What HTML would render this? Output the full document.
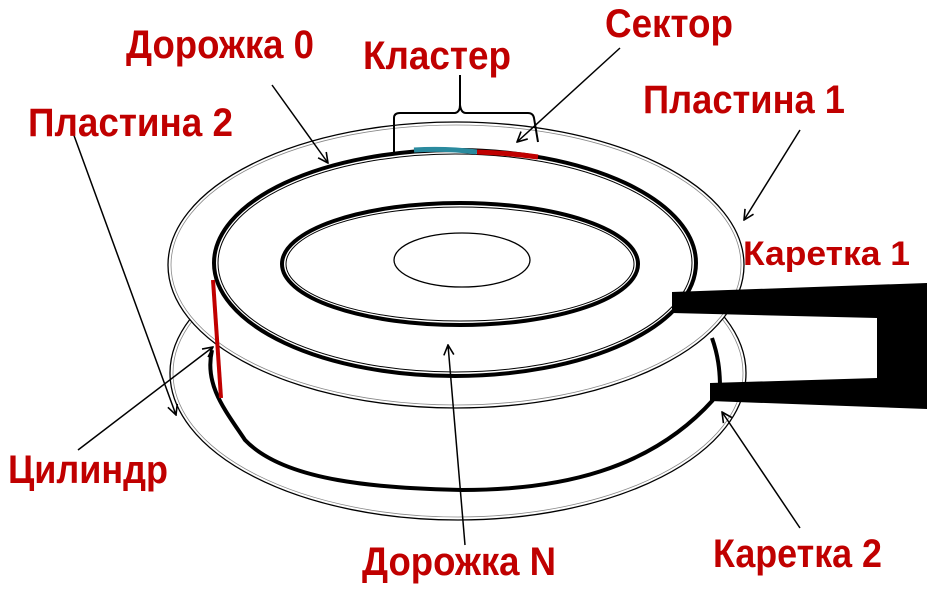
<!DOCTYPE html>
<html><head><meta charset="utf-8"><style>
html,body{margin:0;padding:0;background:#fff}
svg{display:block}
text{font-family:"Liberation Sans",Arial,sans-serif;font-weight:bold;fill:#c00000}
</style></head><body>
<svg width="933" height="592" viewBox="0 0 933 592" xmlns="http://www.w3.org/2000/svg">
<defs>
<marker id="ah" viewBox="0 0 12 12" refX="11" refY="6" markerWidth="12" markerHeight="12" markerUnits="userSpaceOnUse" orient="auto">
<path d="M1,1 L11,6 L1,11" fill="none" stroke="#000" stroke-width="1.6"/>
</marker>
</defs>
<ellipse cx="458" cy="373" rx="288" ry="147" fill="#fff" stroke="#000" stroke-width="1.3"/>
<ellipse cx="458" cy="373" rx="285" ry="144" fill="none" stroke="#888" stroke-width="0.8"/>
<path d="M212,350 C204,385 225,410 245,440 C285,482 380,488 462,490 C560,490 650,470 713,400" fill="none" stroke="#000" stroke-width="4"/>
<path d="M712,338 C718,355 720,370 720,388" fill="none" stroke="#000" stroke-width="4"/>
<ellipse cx="456" cy="265" rx="288" ry="143" fill="#fff" stroke="#000" stroke-width="1.3"/>
<ellipse cx="456" cy="265" rx="285" ry="140" fill="none" stroke="#888" stroke-width="0.8"/>
<ellipse cx="455" cy="263" rx="241" ry="113" fill="none" stroke="#000" stroke-width="4"/>
<ellipse cx="455" cy="263" rx="237" ry="109" fill="none" stroke="#000" stroke-width="1"/>
<ellipse cx="460" cy="264" rx="178" ry="61" fill="none" stroke="#000" stroke-width="4"/>
<ellipse cx="460" cy="264" rx="174" ry="57" fill="none" stroke="#000" stroke-width="1"/>
<ellipse cx="462" cy="260" rx="68" ry="27" fill="none" stroke="#000" stroke-width="1.3"/>
<path d="M414,150 Q445,148 477,152" fill="none" stroke="#2a8a9e" stroke-width="5"/>
<path d="M477,152 Q510,153 538,157" fill="none" stroke="#c00000" stroke-width="5"/>
<path d="M394,152 L394,118 Q394,113 400,113 L455,113 Q460,112 460,105 L460,75 M460,105 Q461,113 466,113 L528,113 Q533,113 534,118 L538,142" fill="none" stroke="#000" stroke-width="2"/>
<line x1="213" y1="280" x2="221" y2="398" stroke="#c00000" stroke-width="4"/>
<polygon points="672,292 927,283 927,409 710,401 710,383 877,378 877,318 672,313" fill="#000"/>
<g stroke="#000" stroke-width="1.5" fill="none" marker-end="url(#ah)">
<line x1="272" y1="85" x2="328" y2="163"/>
<line x1="620" y1="48" x2="517" y2="142"/>
<line x1="800" y1="130" x2="744" y2="220"/>
<line x1="72" y1="130" x2="176" y2="415"/>
<line x1="78" y1="450" x2="213" y2="347"/>
<line x1="465" y1="545" x2="448" y2="345"/>
<line x1="800" y1="528" x2="722" y2="412"/>
</g>
<text x="126" y="58" font-size="40" textLength="188" lengthAdjust="spacingAndGlyphs">Дорожка 0</text>
<text x="363" y="69" font-size="40" textLength="148" lengthAdjust="spacingAndGlyphs">Кластер</text>
<text x="605" y="37" font-size="40" textLength="128" lengthAdjust="spacingAndGlyphs">Сектор</text>
<text x="643" y="113" font-size="40" textLength="202" lengthAdjust="spacingAndGlyphs">Пластина 1</text>
<text x="28" y="136" font-size="40" textLength="205" lengthAdjust="spacingAndGlyphs">Пластина 2</text>
<text x="743" y="265" font-size="34" textLength="167" lengthAdjust="spacingAndGlyphs">Каретка 1</text>
<text x="8" y="483" font-size="40" textLength="160" lengthAdjust="spacingAndGlyphs">Цилиндр</text>
<text x="362" y="575" font-size="40" textLength="194" lengthAdjust="spacingAndGlyphs">Дорожка N</text>
<text x="713" y="567" font-size="40" textLength="169" lengthAdjust="spacingAndGlyphs">Каретка 2</text>
</svg>
</body></html>
